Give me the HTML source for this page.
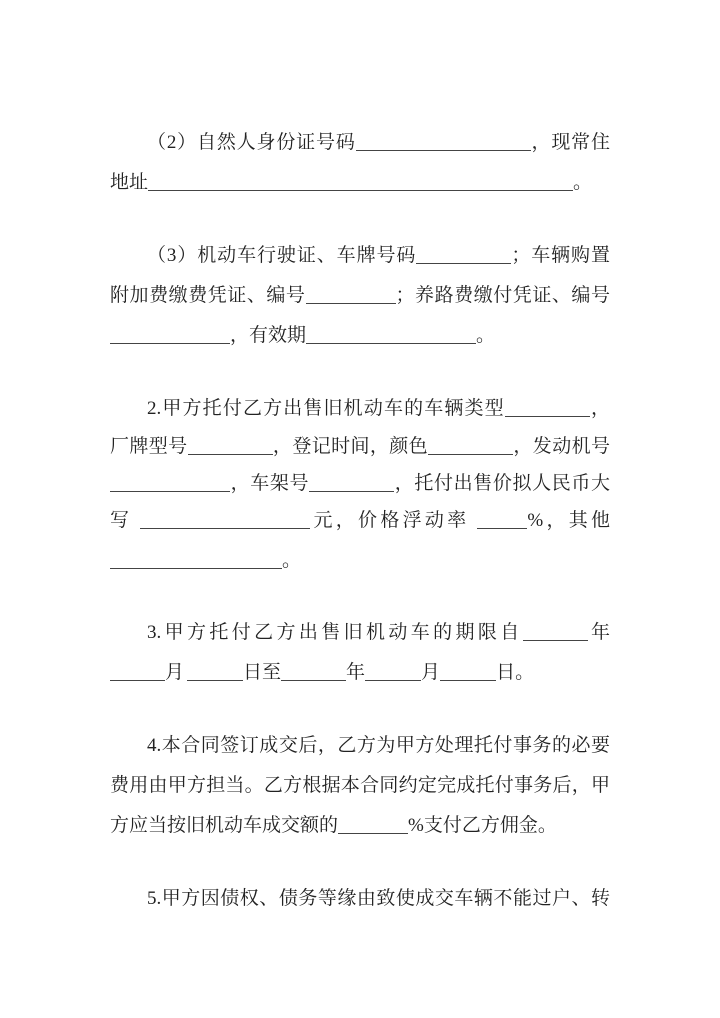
<!DOCTYPE html>
<html><head><meta charset="utf-8"><style>
html,body{margin:0;padding:0;background:#fff;}
body{width:720px;height:1018px;position:relative;overflow:hidden;font-family:"Liberation Serif","Noto Serif CJK SC",serif;font-size:19px;color:#222;}
.l{position:absolute;height:26px;line-height:26px;white-space:nowrap;}
.j{text-align:justify;text-align-last:justify;}
.b{display:inline-block;height:1px;background:#444;vertical-align:-3px;}
</style></head><body>
<div class="l j" style="left:147px;top:130px;width:463px">（2）自然人身份证号码<span class="b" style="width:175px"></span>，现常住</div>
<div class="l" style="left:110px;top:170px">地址<span class="b" style="width:425px"></span>。</div>

<div class="l j" style="left:147px;top:243px;width:463px">（3）机动车行驶证、车牌号码<span class="b" style="width:95px"></span>；车辆购置</div>
<div class="l j" style="left:110px;top:283px;width:500px">附加费缴费凭证、编号<span class="b" style="width:90px"></span>；养路费缴付凭证、编号</div>
<div class="l" style="left:110px;top:323px"><span class="b" style="width:120px"></span>，有效期<span class="b" style="width:170px"></span>。</div>

<div class="l j" style="left:147px;top:396px;width:463px">2.甲方托付乙方出售旧机动车的车辆类型<span class="b" style="width:85px"></span>，</div>
<div class="l j" style="left:110px;top:434px;width:500px">厂牌型号<span class="b" style="width:85px"></span>，登记时间，颜色<span class="b" style="width:85px"></span>，发动机号</div>
<div class="l j" style="left:110px;top:471px;width:500px"><span class="b" style="width:120px"></span>，车架号<span class="b" style="width:85px"></span>，托付出售价拟人民币大</div>
<div class="l j" style="left:110px;top:508px;width:500px">写 <span class="b" style="width:170px"></span>元，价格浮动率 <span class="b" style="width:50px"></span>%，其他</div>
<div class="l" style="left:110px;top:548px"><span class="b" style="width:172px"></span>。</div>

<div class="l j" style="left:147px;top:620px;width:463px">3.甲方托付乙方出售旧机动车的期限自<span class="b" style="width:65px"></span>年</div>
<div class="l" style="left:110px;top:660px"><span class="b" style="width:55px"></span>月<span class="b" style="width:56px;margin-left:3px"></span>日至<span class="b" style="width:65px"></span>年<span class="b" style="width:56px"></span>月<span class="b" style="width:56px"></span>日。</div>

<div class="l j" style="left:147px;top:733px;width:463px">4.本合同签订成交后，乙方为甲方处理托付事务的必要</div>
<div class="l j" style="left:110px;top:773px;width:500px">费用由甲方担当。乙方根据本合同约定完成托付事务后，甲</div>
<div class="l" style="left:110px;top:813px">方应当按旧机动车成交额的<span class="b" style="width:70px"></span>%支付乙方佣金。</div>

<div class="l j" style="left:147px;top:886px;width:463px">5.甲方因债权、债务等缘由致使成交车辆不能过户、转</div>
</body></html>
